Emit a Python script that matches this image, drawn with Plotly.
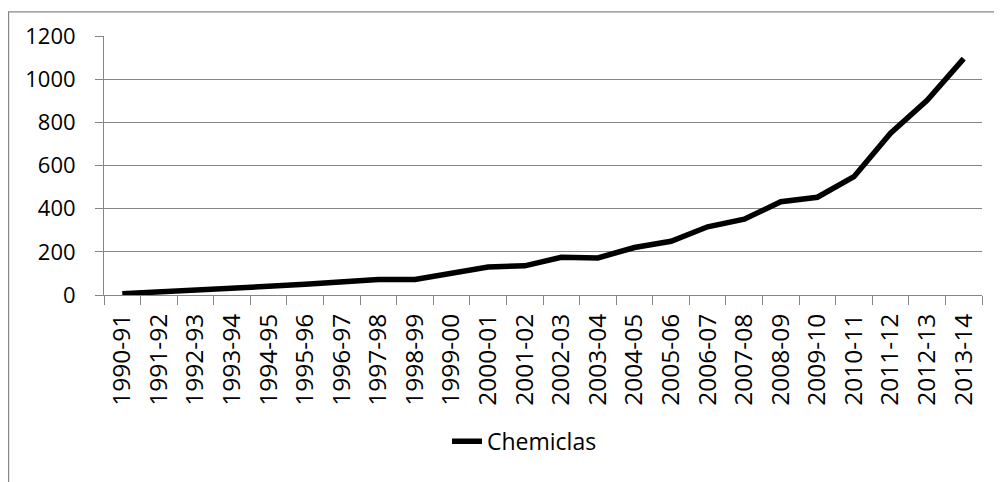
import plotly.graph_objects as go

categories = ["1990-91", "1991-92", "1992-93", "1993-94", "1994-95", "1995-96",
              "1996-97", "1997-98", "1998-99", "1999-00", "2000-01", "2001-02",
              "2002-03", "2003-04", "2004-05", "2005-06", "2006-07", "2007-08",
              "2008-09", "2009-10", "2010-11", "2011-12", "2012-13", "2013-14"]
chemiclas = [6, 13, 20, 30, 40, 50, 60, 72, 72, 100, 130, 135,
             175, 172, 220, 249, 316, 351, 432, 453, 548, 750, 902, 1095]
y_ticks = [0, 200, 400, 600, 800, 1000, 1200]

W, H = 1002, 482
OFF = 8  # page body margin
ML, MT, PW, PH = 96, 25, 878, 262
MR = W - ML - PW
MB = H - MT - PH


def px_x(screen):
    return (screen - OFF - ML) / PW


def px_y(screen):
    return (MT + PH - (screen - OFF)) / PH


grid = "#868686"
font_family = "Open Sans, Lato, Liberation Sans, sans-serif"

fig = go.Figure()
fig.add_trace(go.Scatter(
    x=categories, y=chemiclas, mode="lines", name="Chemiclas",
    line=dict(color="#000000", width=5.5),
))

fig.update_layout(
    width=W, height=H,
    margin=dict(l=ML, r=MR, t=MT, b=MB),
    paper_bgcolor="white", plot_bgcolor="white",
    font=dict(family=font_family, size=22, color="#000000"),
    showlegend=True,
    legend=dict(orientation="h", x=px_x(447), xanchor="left",
                y=px_y(443), yanchor="middle",
                font=dict(size=23, family=font_family),
                bgcolor="rgba(0,0,0,0)"),
    xaxis=dict(
        type="category", range=[-0.5, len(categories) - 0.5],
        tickson="boundaries", ticks="outside", ticklen=9, tickcolor=grid,
        tickwidth=1, showline=True, linecolor=grid, linewidth=1,
        showgrid=False, tickangle=-90, ticklabelstandoff=8,
        tickfont=dict(size=24.5, family=font_family),
    ),
    yaxis=dict(
        range=[0, 1200], tickvals=y_ticks, ticks="outside", ticklen=8,
        tickcolor=grid, tickwidth=1, showline=True, linecolor=grid, linewidth=1,
        showgrid=True, gridcolor=grid, gridwidth=1, zeroline=False,
        ticklabelstandoff=15, tickfont=dict(size=22, family=font_family),
    ),
    shapes=[dict(type="rect", xref="paper", yref="paper",
                 x0=px_x(8.6), x1=px_x(1020), y0=px_y(500), y1=px_y(8.6),
                 line=dict(color=grid, width=1.2), fillcolor="rgba(0,0,0,0)",
                 layer="below")],
)

fig.write_html("out.html")
